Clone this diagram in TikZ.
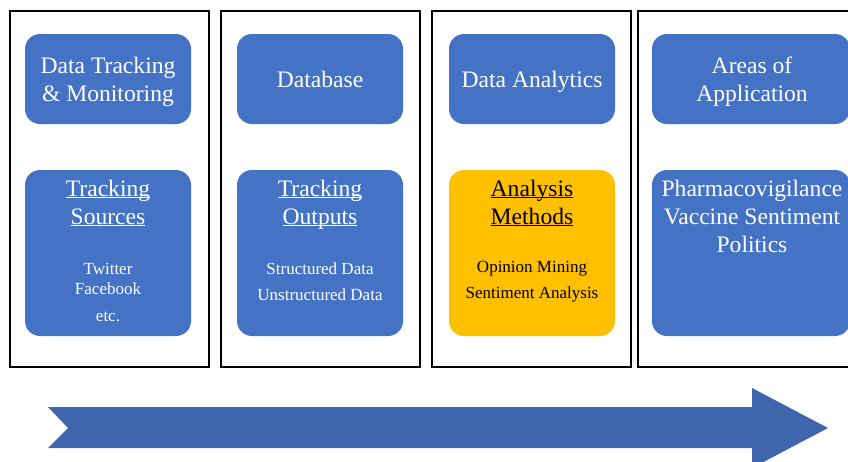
\documentclass[tikz,border=0pt]{standalone}
\usepackage{fontspec}
\setmainfont{Liberation Serif}
\usetikzlibrary{positioning}
\definecolor{boxblue}{HTML}{4472C4}
\definecolor{boxgold}{HTML}{FFC000}
\definecolor{arrowblue}{HTML}{3F65AD}
\newcommand\uword[1]{\underline{\smash{#1}}}
\tikzset{
  stage/.style={draw=black, line width=1.4pt},
  card/.style={fill=boxblue, rounded corners=15pt, text=white, align=center,
    minimum width=166pt, minimum height=90pt, inner sep=0pt,
    font=\fontsize{23.6}{28}\selectfont},
  tallcard/.style={card, minimum height=166pt},
  heading/.style={align=center, text=white, font=\fontsize{23.6}{28}\selectfont},
  items/.style={align=center, text=white, font=\fontsize{17}{20}\selectfont},
}
\begin{document}
\begin{tikzpicture}[x=1pt, y=-1pt]
  \clip (0,0) rectangle (848,461);
  \fill[white] (0,0) rectangle (848,461);
  % the four stages
  \draw[stage] (10,11) rectangle (209,367);
  \draw[stage] (221,11) rectangle (420,367);
  \draw[stage] (432,11) rectangle (631,367);
  \draw[stage] (638,11) rectangle (870,367);
  % top row
  \node[card] (tracking) at (108,79) {};
  \node[card] (database) at (320,79) {};
  \node[card] (analytics) at (532,79) {};
  \node[card, minimum width=198pt] (areas) at (751,79) {};
  \node[heading] (trackingT) at (108,82) {Data Tracking\\\& Monitoring};
  \node[heading] (databaseT) at (320,79) {Database};
  \node[heading] (analyticsT) at (532,82) {Data Analytics};
  \node[heading] (areasT) at (752,82) {Areas of\\Application};
  % bottom row
  \node[tallcard] (sources) at (108,253) {};
  \node[tallcard] (outputs) at (320,253) {};
  \node[tallcard, fill=boxgold] (methods) at (532,253) {};
  \node[tallcard, minimum width=198pt] (fields) at (751,253) {};
  \node[heading] (sourcesT) at (108,211) {\uword{Tracking}\\\uword{Sources}};
  \node[items] (sourcesL) at (108,292) {Twitter\\Facebook\\[7pt]etc.};
  \node[heading] (outputsT) at (320,211) {\uword{Tracking}\\\uword{Outputs}};
  \node[items, font=\fontsize{17}{26}\selectfont] (outputsL) at (320,282) {Structured Data\\Unstructured Data};
  \node[heading, text=black] (methodsT) at (532,211) {\uword{Analysis}\\\uword{Methods}};
  \node[items, text=black, font=\fontsize{17}{26}\selectfont] (methodsL) at (532,282) {Opinion Mining\\Sentiment Analysis};
  \node[heading] (fieldsT) at (752,216) {Pharmacovigilance\\Vaccine Sentiment\\Politics};
  % timeline arrow
  \fill[arrowblue] (48,407) -- (752,407) -- (752,388) -- (828,428) -- (752,468)
    -- (752,448) -- (48,448) -- (68,428) -- cycle;
\end{tikzpicture}
\end{document}
